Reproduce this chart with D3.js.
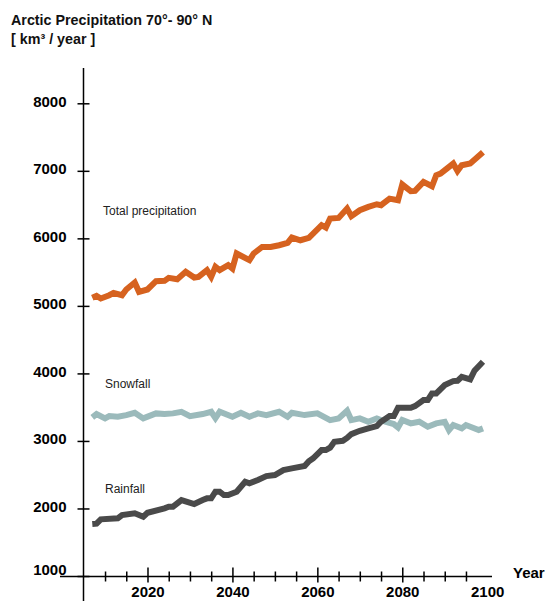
<!DOCTYPE html>
<html>
<head>
<meta charset="utf-8">
<script src="https://cdn.jsdelivr.net/npm/d3@7"></script>
<style>
  html, body { margin: 0; padding: 0; background: #fff; }
  svg { display: block; font-family: "Liberation Sans", Arial, Helvetica, sans-serif; }
</style>
</head>
<body>
<svg id="chart" width="547" height="601"></svg>
<script>
// Axis ticks and labels
const yTickValues = [1000, 2000, 3000, 4000, 5000, 6000, 7000, 8000];
const xTickValues = [2010, 2015, 2020, 2025, 2030, 2035, 2040, 2045, 2050, 2055,
                     2060, 2065, 2070, 2075, 2080, 2085, 2090, 2095];
const xMajorTicks = [2020, 2040, 2060, 2080];
const xLabelValues = [2020, 2040, 2060, 2080, 2100];

// Total precipitation (km³/year)
const totalYears  = [2007, 2008, 2009, 2011, 2012, 2014, 2015, 2017, 2018, 2020,
                     2022, 2024, 2025, 2027, 2029, 2031, 2032, 2034, 2035, 2036,
                     2037, 2039, 2040, 2041, 2044, 2045, 2047, 2049, 2051, 2053,
                     2054, 2056, 2058, 2061, 2062, 2063, 2065, 2067, 2068, 2070,
                     2072, 2074, 2075, 2077, 2079, 2080, 2082, 2083, 2085, 2087,
                     2088, 2089, 2092, 2093, 2094, 2096, 2099];
const totalValues = [5120, 5148, 5110, 5158, 5193, 5158, 5243, 5347, 5208, 5243,
                     5366, 5371, 5415, 5395, 5504, 5420, 5430, 5529, 5430, 5578,
                     5529, 5603, 5553, 5776, 5677, 5776, 5873, 5873, 5898, 5933,
                     6012, 5972, 6007, 6195, 6160, 6293, 6302, 6441, 6328, 6417,
                     6466, 6505, 6491, 6589, 6565, 6797, 6698, 6703, 6836, 6772,
                     6935, 6960, 7108, 6998, 7083, 7108, 7275];

// Snowfall (km³/year)
const snowYears  = [2007, 2008, 2010, 2011, 2013, 2015, 2017, 2019, 2022, 2024,
                    2026, 2028, 2030, 2033, 2035, 2036, 2037, 2040, 2042, 2044,
                    2046, 2048, 2051, 2053, 2054, 2057, 2060, 2063, 2065, 2067,
                    2068, 2070, 2072, 2074, 2076, 2078, 2079, 2080, 2082, 2084,
                    2086, 2088, 2090, 2091, 2092, 2094, 2095, 2098, 2099];
const snowValues = [3349, 3398, 3334, 3368, 3358, 3383, 3417, 3334, 3408, 3398,
                    3408, 3432, 3368, 3398, 3432, 3338, 3432, 3358, 3417, 3358,
                    3408, 3383, 3432, 3358, 3417, 3383, 3408, 3309, 3334, 3447,
                    3309, 3334, 3284, 3334, 3284, 3250, 3200, 3309, 3260, 3284,
                    3210, 3260, 3284, 3161, 3235, 3186, 3235, 3161, 3186];

// Rainfall (km³/year)
const rainYears  = [2007, 2008, 2009, 2013, 2014, 2017, 2019, 2020, 2024, 2025,
                    2026, 2028, 2031, 2033, 2034, 2035, 2036, 2037, 2038, 2039,
                    2041, 2043, 2044, 2046, 2048, 2050, 2052, 2054, 2057, 2058,
                    2059, 2061, 2062, 2063, 2064, 2066, 2067, 2068, 2070, 2072,
                    2074, 2075, 2077, 2078, 2079, 2082, 2083, 2085, 2086, 2087,
                    2088, 2090, 2092, 2093, 2094, 2096, 2097, 2099];
const rainValues = [1770, 1775, 1839, 1854, 1903, 1928, 1878, 1937, 2002, 2026,
                    2026, 2125, 2066, 2125, 2150, 2150, 2248, 2248, 2199, 2199,
                    2248, 2396, 2372, 2421, 2480, 2495, 2569, 2594, 2628, 2700,
                    2742, 2865, 2865, 2900, 2988, 3002, 3045, 3101, 3150, 3186,
                    3220, 3284, 3368, 3368, 3490, 3490, 3516, 3605, 3605, 3704,
                    3704, 3827, 3886, 3890, 3950, 3911, 4039, 4172];

const seriesLabels = ["Total precipitation", "Snowfall", "Rainfall"];

const svg = d3.select("#chart");

const x = d3.scaleLinear().domain([2005, 2100]).range([83.8, 487.2]);
const y = d3.scaleLinear().domain([1000, 8000]).range([576, 103.3]);

// Title
const title = svg.append("g").attr("fill", "#111")
  .style("font-weight", "bold").style("font-size", "14.3px");
title.append("text").attr("x", 11).attr("y", 25).text("Arctic Precipitation 70°- 90° N");
title.append("text").attr("x", 11).attr("y", 44).text("[ km³ / year ]");

// Y axis
svg.append("line")
  .attr("x1", 83.5).attr("x2", 83.5).attr("y1", 68).attr("y2", 601)
  .attr("stroke", "#000").attr("stroke-width", 1.5);

const yAxis = svg.append("g")
  .attr("transform", "translate(83.5,0)")
  .call(d3.axisLeft(y).tickValues(yTickValues).tickSize(6).tickPadding(11).tickFormat(d3.format("d")));
yAxis.select(".domain").remove();
yAxis.selectAll(".tick line").attr("x1", 6).attr("stroke", "#000").attr("stroke-width", 1.5);
// the lowest label sits above the x axis line
yAxis.selectAll(".tick text")
  .attr("fill", "#000")
  .attr("dy", d => d === 1000 ? "-0.12em" : "0.18em")
  .style("font-size", "15px").style("font-weight", "bold")
  .style("font-family", "'Liberation Sans', Arial, sans-serif");

// X axis
svg.append("line")
  .attr("x1", 60).attr("x2", 492).attr("y1", 576.5).attr("y2", 576.5)
  .attr("stroke", "#000").attr("stroke-width", 1.5);

const xAxis = svg.append("g")
  .attr("transform", "translate(0,576.5)")
  .call(d3.axisBottom(x).tickValues(xTickValues).tickSize(5).tickFormat(""));
xAxis.select(".domain").remove();
xAxis.selectAll(".tick line")
  .attr("y1", d => xMajorTicks.includes(d) ? -9 : -5)
  .attr("y2", d => xMajorTicks.includes(d) ? 6 : 5)
  .attr("stroke", "#000").attr("stroke-width", 1.5);

const xLabels = svg.append("g")
  .attr("transform", "translate(0,576.5)")
  .call(d3.axisBottom(x).tickValues(xLabelValues).tickSize(0).tickPadding(10).tickFormat(d3.format("d")));
xLabels.select(".domain").remove();
xLabels.selectAll(".tick text")
  .attr("fill", "#000")
  .style("font-size", "15px").style("font-weight", "bold")
  .style("font-family", "'Liberation Sans', Arial, sans-serif");

svg.append("text")
  .attr("x", 513).attr("y", 578)
  .attr("fill", "#000")
  .style("font-size", "15px").style("font-weight", "bold")
  .text("Year");

// Series lines
const line = d3.line().x(d => x(d[0])).y(d => y(d[1]));
const pairs = (ys, vs) => ys.map((yr, i) => [yr, vs[i]]);

const series = [
  { data: pairs(snowYears, snowValues), color: "#9bbabb" },
  { data: pairs(rainYears, rainValues), color: "#4a4a4a" },
  { data: pairs(totalYears, totalValues), color: "#d6621f" }
];

svg.append("g").selectAll("path")
  .data(series)
  .join("path")
  .attr("d", d => line(d.data))
  .attr("fill", "none")
  .attr("stroke", d => d.color)
  .attr("stroke-width", 6)
  .attr("stroke-linejoin", "miter")
  .attr("stroke-miterlimit", 3)
  .attr("stroke-linecap", "butt");

// Series labels
const labelPos = [[103, 215], [105, 388], [105, 493]];
svg.append("g").selectAll("text")
  .data(seriesLabels)
  .join("text")
  .attr("x", (d, i) => labelPos[i][0])
  .attr("y", (d, i) => labelPos[i][1])
  .attr("fill", "#222")
  .style("font-size", "12px")
  .text(d => d);
</script>
</body>
</html>
